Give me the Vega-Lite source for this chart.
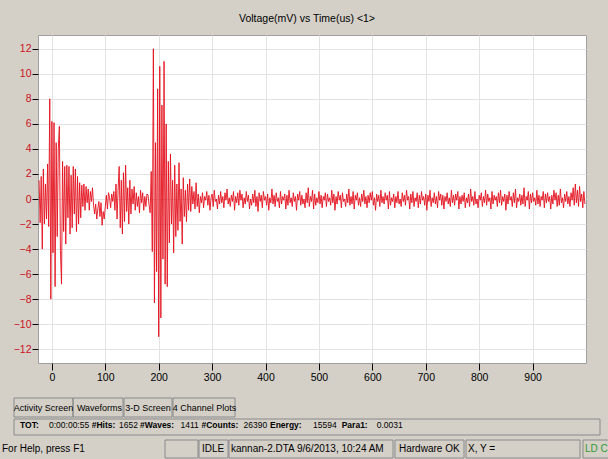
{
  "$schema": "https://vega.github.io/schema/vega-lite/v6.json",
  "width": 548,
  "height": 328,
  "autosize": {"type": "none"},
  "padding": {"left": 38, "top": 35, "right": 22, "bottom": 96},
  "background": "#d4d0c8",
  "title": {"text": "Voltage(mV) vs Time(us) <1>", "anchor": "middle", "offset": 11, "dx": -5, "fontSize": 10.5, "fontWeight": "normal", "font": "Liberation Sans", "color": "#000000"},
  "config": {
    "view": {"fill": "white", "stroke": "#a0a0a0"},
    "font": "Liberation Sans",
    "text": {"font": "Liberation Sans"}
  },
  "resolve": {"scale": {"x": "independent", "y": "independent"}},
  "layer": [
    {
      "data": {"values": [
        {"t":-24,"v":1.5},{"t":-22,"v":-1.9},{"t":-20,"v":1.8},{"t":-18,"v":-4.0},{"t":-16,"v":2.4},{"t":-14,"v":-2.0},{"t":-12,"v":1.2},{"t":-10,"v":-1.6},{"t":-8,"v":2.8},{"t":-6,"v":-2.2},
        {"t":-4,"v":8.0},{"t":-2,"v":-8.0},{"t":0,"v":6.2},{"t":2,"v":-4.3},{"t":4,"v":6.1},{"t":6,"v":-7.0},{"t":8,"v":4.5},{"t":10,"v":-3.0},{"t":12,"v":4.0},{"t":14,"v":5.8},
        {"t":16,"v":-4.1},{"t":18,"v":-6.8},{"t":20,"v":3.0},{"t":22,"v":-2.6},{"t":24,"v":2.6},{"t":26,"v":-3.6},{"t":28,"v":2.7},{"t":30,"v":-1.5},{"t":32,"v":2.6},{"t":34,"v":-2.8},
        {"t":36,"v":1.9},{"t":38,"v":-2.3},{"t":40,"v":2.6},{"t":42,"v":-1.2},{"t":44,"v":2.4},{"t":46,"v":-2.6},{"t":48,"v":1.8},{"t":50,"v":-2.0},{"t":52,"v":1.3},{"t":54,"v":-1.5},
        {"t":56,"v":1.1},{"t":58,"v":-0.6},{"t":60,"v":1.2},{"t":62,"v":-0.9},{"t":64,"v":1.0},{"t":66,"v":-0.3},{"t":68,"v":0.8},{"t":70,"v":-0.9},{"t":72,"v":0.6},{"t":74,"v":-0.2},
        {"t":76,"v":0.9},{"t":78,"v":-0.5},{"t":80,"v":-1.2},{"t":82,"v":-0.4},{"t":84,"v":-1.6},{"t":86,"v":-0.8},{"t":88,"v":-0.2},{"t":90,"v":-1.4},{"t":92,"v":-0.3},{"t":94,"v":-2.1},
        {"t":96,"v":-1.0},{"t":98,"v":-1.6},{"t":100,"v":-0.6},{"t":102,"v":0.3},{"t":104,"v":-0.8},{"t":106,"v":0.5},{"t":108,"v":0.1},{"t":110,"v":-0.7},{"t":112,"v":0.4},{"t":114,"v":-0.2},
        {"t":116,"v":0.6},{"t":118,"v":-0.9},{"t":120,"v":1.2},{"t":122,"v":-1.6},{"t":124,"v":0.8},{"t":126,"v":2.6},{"t":128,"v":-2.3},{"t":130,"v":1.5},{"t":132,"v":-2.8},{"t":134,"v":2.1},
        {"t":136,"v":-1.8},{"t":138,"v":2.7},{"t":140,"v":-1.0},{"t":142,"v":0.9},{"t":144,"v":-2.0},{"t":146,"v":1.5},{"t":148,"v":-1.2},{"t":150,"v":0.8},{"t":152,"v":-0.4},{"t":154,"v":1.0},
        {"t":156,"v":-0.9},{"t":158,"v":0.5},{"t":160,"v":-0.6},{"t":162,"v":0.2},{"t":164,"v":-1.1},{"t":166,"v":0.7},{"t":168,"v":-0.3},{"t":170,"v":0.5},{"t":172,"v":-0.9},{"t":174,"v":0.2},
        {"t":176,"v":-0.6},{"t":178,"v":0.4},{"t":180,"v":0.3},{"t":182,"v":-0.5},{"t":184,"v":-1.1},{"t":186,"v":2.2},{"t":188,"v":-4.2},{"t":190,"v":12.0},{"t":192,"v":-8.3},{"t":194,"v":4.5},
        {"t":196,"v":-5.8},{"t":198,"v":8.8},{"t":200,"v":-11.0},{"t":202,"v":10.6},{"t":204,"v":-9.5},{"t":206,"v":7.5},{"t":208,"v":-4.8},{"t":210,"v":11.0},{"t":212,"v":-6.8},{"t":214,"v":6.0},
        {"t":216,"v":-7.0},{"t":218,"v":3.0},{"t":220,"v":-3.5},{"t":222,"v":3.6},{"t":224,"v":-2.0},{"t":226,"v":1.5},{"t":228,"v":-4.3},{"t":230,"v":2.7},{"t":232,"v":-3.0},{"t":234,"v":1.2},
        {"t":236,"v":-2.5},{"t":238,"v":2.9},{"t":240,"v":-1.8},{"t":242,"v":0.8},{"t":244,"v":-3.6},{"t":246,"v":1.7},{"t":248,"v":-1.4},{"t":250,"v":0.7},{"t":252,"v":-1.8},{"t":254,"v":1.2},
        {"t":256,"v":-0.9},{"t":258,"v":1.6},{"t":260,"v":-1.0},{"t":262,"v":1.0},{"t":264,"v":-0.4},{"t":266,"v":0.6},{"t":268,"v":-0.8},{"t":270,"v":1.3},{"t":272,"v":-0.6},{"t":274,"v":0.4},
        {"t":276,"v":-1.1},{"t":278,"v":0.2},
        {"t":280,"v":-0.3},{"t":282,"v":0.5},{"t":284,"v":-0.7},{"t":286,"v":0.2},{"t":288,"v":-0.1},{"t":290,"v":0.6},{"t":292,"v":-0.5},{"t":294,"v":0.3},{"t":296,"v":-0.9},{"t":298,"v":0.1},
        {"t":300,"v":0.4},{"t":302,"v":-0.6},{"t":304,"v":0.7},{"t":306,"v":-0.2},{"t":308,"v":0.0},{"t":310,"v":-0.8},{"t":312,"v":0.3},{"t":314,"v":-0.4},{"t":316,"v":0.6},{"t":318,"v":-0.3},
        {"t":320,"v":0.2},{"t":322,"v":-0.7},{"t":324,"v":0.5},{"t":326,"v":-0.1},{"t":328,"v":0.8},{"t":330,"v":-0.4},{"t":332,"v":0.1},{"t":334,"v":-0.6},{"t":336,"v":0.3},{"t":338,"v":-0.2},
        {"t":340,"v":0.6},{"t":342,"v":-0.9},{"t":344,"v":0.2},{"t":346,"v":-0.3},{"t":348,"v":0.5},{"t":350,"v":-0.5},{"t":352,"v":0.7},{"t":354,"v":-0.1},{"t":356,"v":0.4},{"t":358,"v":-0.7},
        {"t":360,"v":0.1},{"t":362,"v":-0.4},{"t":364,"v":0.6},{"t":366,"v":-0.2},{"t":368,"v":0.3},{"t":370,"v":-0.8},{"t":372,"v":0.0},{"t":374,"v":-0.5},{"t":376,"v":0.4},{"t":378,"v":-0.3},
        {"t":380,"v":0.7},{"t":382,"v":-0.6},{"t":384,"v":0.2},{"t":386,"v":-1.0},{"t":388,"v":0.5},{"t":390,"v":-0.2},{"t":392,"v":0.3},{"t":394,"v":-0.7},{"t":396,"v":0.6},{"t":398,"v":-0.1},
        {"t":400,"v":0.2},{"t":402,"v":-0.5},{"t":404,"v":0.4},{"t":406,"v":-0.9},{"t":408,"v":0.1},{"t":410,"v":-0.3},{"t":412,"v":0.8},{"t":414,"v":-0.4},{"t":416,"v":0.3},{"t":418,"v":-0.6},
        {"t":420,"v":0.5},{"t":422,"v":-0.2},{"t":424,"v":0.1},{"t":426,"v":-0.7},{"t":428,"v":0.6},{"t":430,"v":-0.4},{"t":432,"v":0.2},{"t":434,"v":-0.1},{"t":436,"v":0.4},{"t":438,"v":-0.8},
        {"t":440,"v":0.3},{"t":442,"v":-0.5},{"t":444,"v":0.7},{"t":446,"v":-0.3},{"t":448,"v":0.1},{"t":450,"v":-0.6},{"t":452,"v":0.5},{"t":454,"v":-0.2},{"t":456,"v":0.2},{"t":458,"v":-0.9},
        {"t":460,"v":0.4},{"t":462,"v":-0.1},{"t":464,"v":0.6},{"t":466,"v":-0.5},{"t":468,"v":0.3},{"t":470,"v":-0.4},{"t":472,"v":0.0},{"t":474,"v":-0.7},{"t":476,"v":0.5},{"t":478,"v":-0.3},
        {"t":480,"v":0.9},{"t":482,"v":-0.6},{"t":484,"v":0.2},{"t":486,"v":-0.2},{"t":488,"v":0.7},{"t":490,"v":-0.8},{"t":492,"v":0.4},{"t":494,"v":-0.5},{"t":496,"v":0.1},{"t":498,"v":-0.3},
        {"t":500,"v":0.6},{"t":502,"v":-0.4},{"t":504,"v":0.3},{"t":506,"v":-0.7},{"t":508,"v":0.2},{"t":510,"v":-0.1},{"t":512,"v":0.5},{"t":514,"v":-0.6},{"t":516,"v":0.4},{"t":518,"v":-0.2},
        {"t":520,"v":0.1},{"t":522,"v":-0.5},{"t":524,"v":0.7},{"t":526,"v":-0.3},{"t":528,"v":0.4},{"t":530,"v":-0.9},{"t":532,"v":0.2},{"t":534,"v":-0.4},{"t":536,"v":0.6},{"t":538,"v":-0.1},
        {"t":540,"v":0.3},{"t":542,"v":-0.7},{"t":544,"v":0.5},{"t":546,"v":-0.2},{"t":548,"v":0.0},{"t":550,"v":-0.6},{"t":552,"v":0.4},{"t":554,"v":-0.3},{"t":556,"v":0.8},{"t":558,"v":-0.5},
        {"t":560,"v":0.2},{"t":562,"v":-0.4},{"t":564,"v":0.6},{"t":566,"v":-0.8},{"t":568,"v":0.3},{"t":570,"v":-0.1},{"t":572,"v":0.5},{"t":574,"v":-0.5},{"t":576,"v":0.1},{"t":578,"v":-0.6},
        {"t":580,"v":0.4},{"t":582,"v":-0.2},{"t":584,"v":0.7},{"t":586,"v":-0.4},{"t":588,"v":0.2},{"t":590,"v":-0.7},{"t":592,"v":0.3},{"t":594,"v":-0.3},{"t":596,"v":0.5},{"t":598,"v":-0.1},
        {"t":600,"v":0.6},{"t":602,"v":-0.5},{"t":604,"v":0.1},{"t":606,"v":-0.9},{"t":608,"v":0.4},{"t":610,"v":-0.2},{"t":612,"v":0.3},{"t":614,"v":-0.6},{"t":616,"v":0.7},{"t":618,"v":-0.3},
        {"t":620,"v":0.2},{"t":622,"v":-0.4},{"t":624,"v":0.5},{"t":626,"v":-0.1},{"t":628,"v":0.3},{"t":630,"v":-0.8},{"t":632,"v":0.6},{"t":634,"v":-0.5},{"t":636,"v":0.1},{"t":638,"v":-0.2},
        {"t":640,"v":0.4},{"t":642,"v":-0.7},{"t":644,"v":0.2},{"t":646,"v":-0.3},{"t":648,"v":0.6},{"t":650,"v":-0.4},{"t":652,"v":0.0},{"t":654,"v":-0.6},{"t":656,"v":0.5},{"t":658,"v":-0.2},
        {"t":660,"v":0.3},{"t":662,"v":-0.5},{"t":664,"v":0.7},{"t":666,"v":-0.1},{"t":668,"v":0.2},{"t":670,"v":-0.8},{"t":672,"v":0.4},{"t":674,"v":-0.3},{"t":676,"v":0.6},{"t":678,"v":-0.6},
        {"t":680,"v":0.1},{"t":682,"v":-0.2},{"t":684,"v":0.5},{"t":686,"v":-0.7},{"t":688,"v":0.3},{"t":690,"v":-0.4},{"t":692,"v":0.6},{"t":694,"v":-0.1},{"t":696,"v":0.2},{"t":698,"v":-0.5},
        {"t":700,"v":0.4},{"t":702,"v":-0.9},{"t":704,"v":0.3},{"t":706,"v":-0.2},{"t":708,"v":0.7},{"t":710,"v":-0.6},{"t":712,"v":0.1},{"t":714,"v":-0.3},{"t":716,"v":0.5},{"t":718,"v":-0.4},
        {"t":720,"v":0.2},{"t":722,"v":-0.7},{"t":724,"v":0.6},{"t":726,"v":-0.1},{"t":728,"v":0.4},{"t":730,"v":-0.5},{"t":732,"v":0.3},{"t":734,"v":-0.8},{"t":736,"v":0.2},{"t":738,"v":-0.2},
        {"t":740,"v":0.5},{"t":742,"v":-0.4},{"t":744,"v":0.1},{"t":746,"v":-0.6},{"t":748,"v":0.7},{"t":750,"v":-0.3},{"t":752,"v":0.3},{"t":754,"v":-0.5},{"t":756,"v":0.4},{"t":758,"v":-0.1},
        {"t":760,"v":0.6},{"t":762,"v":-0.8},{"t":764,"v":0.2},{"t":766,"v":-0.4},{"t":768,"v":0.3},{"t":770,"v":-0.2},{"t":772,"v":0.5},{"t":774,"v":-0.7},{"t":776,"v":0.1},{"t":778,"v":-0.3},
        {"t":780,"v":0.4},{"t":782,"v":-0.6},{"t":784,"v":0.8},{"t":786,"v":-0.2},{"t":788,"v":0.2},{"t":790,"v":-0.5},{"t":792,"v":0.6},{"t":794,"v":-0.4},{"t":796,"v":0.0},{"t":798,"v":-0.7},
        {"t":800,"v":0.3},{"t":802,"v":-0.1},{"t":804,"v":0.5},{"t":806,"v":-0.6},{"t":808,"v":0.2},{"t":810,"v":-0.3},{"t":812,"v":0.7},{"t":814,"v":-0.5},{"t":816,"v":0.4},{"t":818,"v":-0.2},
        {"t":820,"v":0.1},{"t":822,"v":-0.8},{"t":824,"v":0.6},{"t":826,"v":-0.4},{"t":828,"v":0.3},{"t":830,"v":-0.1},{"t":832,"v":0.2},{"t":834,"v":-0.6},{"t":836,"v":0.5},{"t":838,"v":-0.3},
        {"t":840,"v":0.7},{"t":842,"v":-0.5},{"t":844,"v":0.2},{"t":846,"v":-0.2},{"t":848,"v":0.4},{"t":850,"v":-0.9},{"t":852,"v":0.3},{"t":854,"v":-0.4},{"t":856,"v":0.6},{"t":858,"v":-0.1},
        {"t":860,"v":0.2},{"t":862,"v":-0.6},{"t":864,"v":0.5},{"t":866,"v":-0.3},{"t":868,"v":0.8},{"t":870,"v":-0.7},{"t":872,"v":0.1},{"t":874,"v":-0.2},{"t":876,"v":0.4},{"t":878,"v":-0.5},
        {"t":880,"v":0.3},{"t":882,"v":-0.4},{"t":884,"v":0.9},{"t":886,"v":-0.6},{"t":888,"v":0.2},{"t":890,"v":-0.1},{"t":892,"v":0.6},{"t":894,"v":-0.8},{"t":896,"v":0.4},{"t":898,"v":-0.3},
        {"t":900,"v":0.5},{"t":902,"v":-0.2},{"t":904,"v":0.1},{"t":906,"v":-0.5},{"t":908,"v":0.7},{"t":910,"v":-0.4},{"t":912,"v":0.3},{"t":914,"v":-0.6},{"t":916,"v":0.2},{"t":918,"v":-0.1},
        {"t":920,"v":0.6},{"t":922,"v":-0.7},{"t":924,"v":0.4},{"t":926,"v":-0.3},{"t":928,"v":0.5},{"t":930,"v":-0.2},{"t":932,"v":0.2},{"t":934,"v":-0.8},{"t":936,"v":0.3},{"t":938,"v":-0.4},
        {"t":940,"v":0.7},{"t":942,"v":-0.1},{"t":944,"v":0.5},{"t":946,"v":-0.6},{"t":948,"v":0.3},{"t":950,"v":-0.5},{"t":952,"v":0.8},{"t":954,"v":-0.3},{"t":956,"v":0.1},{"t":958,"v":-0.7},
        {"t":960,"v":0.4},{"t":962,"v":-0.2},{"t":964,"v":0.6},{"t":966,"v":-0.4},{"t":968,"v":0.2},{"t":970,"v":-0.6},{"t":972,"v":0.5},{"t":974,"v":-0.1},{"t":976,"v":0.9},{"t":978,"v":-0.5},
        {"t":980,"v":1.2},{"t":982,"v":-0.3},{"t":984,"v":0.7},{"t":986,"v":-0.6},{"t":988,"v":1.0},{"t":990,"v":-0.2},{"t":992,"v":0.4},{"t":994,"v":-0.7},{"t":996,"v":0.6},{"t":998,"v":-0.4}
      ]},
      "mark": {"type": "line", "color": "#e3101c", "strokeWidth": 0.9, "clip": true},
      "encoding": {
        "x": {"field": "t", "type": "quantitative", "scale": {"domain": [-26, 1000], "nice": false, "zero": false},
          "axis": {"title": null, "values": [0,100,200,300,400,500,600,700,800,900], "grid": true, "gridColor": "#e3e3e3", "domain": false, "tickColor": "#000000", "tickSize": 7, "labelColor": "#000000", "labelFontSize": 10.5, "labelPadding": 2}},
        "y": {"field": "v", "type": "quantitative", "scale": {"domain": [-13.1, 13.1], "nice": false, "zero": false},
          "axis": {"title": null, "values": [-12,-10,-8,-6,-4,-2,0,2,4,6,8,10,12], "grid": true, "gridColor": "#e3e3e3", "domain": false, "tickColor": "#000000", "tickSize": 6, "labelColor": "#cc1020", "labelFontSize": 10.5, "labelPadding": 1}}
      }
    },
    {
      "data": {"values": [
        {"a": 0, "b": 1, "c": 0, "d": 1},
        {"a": 1, "b": 2, "c": 0, "d": 1},
        {"a": 3, "b": 4, "c": 0, "d": 1},
        {"a": 5, "b": 6, "c": 0, "d": 1},
        {"a": 0, "b": 7, "c": 2, "d": 3},
        {"a": 8, "b": 9, "c": 4, "d": 5},
        {"a": 10, "b": 11, "c": 4, "d": 5},
        {"a": 12, "b": 13, "c": 4, "d": 5},
        {"a": 14, "b": 15, "c": 4, "d": 5},
        {"a": 16, "b": 17, "c": 4, "d": 5},
        {"a": 18, "b": 19, "c": 4, "d": 5}
      ]},
      "mark": {"type": "rect", "fill": "transparent", "stroke": "#8a8a8a", "strokeWidth": 1},
      "encoding": {
        "x": {"field": "a", "type": "quantitative", "scale": {"domain": [0,1,2,3,4,5,6,7,8,9,10,11,12,13,14,15,16,17,18,19], "range": [-24,35,85,86,134,135,197,562,127,160,161,190,191,355,357,426,428,542,545,574], "nice": false, "zero": false}, "axis": null},
        "x2": {"field": "b"},
        "y": {"field": "c", "type": "quantitative", "scale": {"domain": [0,1,2,3,4,5], "range": [363,382,384,400,405,423], "nice": false, "zero": false}, "axis": null},
        "y2": {"field": "d"}
      }
    },
    {
      "data": {"values": [
        {"k": 0, "r": 0, "s": "Activity Screen"},
        {"k": 1, "r": 0, "s": "Waveforms"},
        {"k": 2, "r": 0, "s": "3-D Screen"},
        {"k": 3, "r": 0, "s": "4 Channel Plots"}
      ]},
      "mark": {"type": "text", "align": "center", "baseline": "middle", "fontSize": 9, "color": "#000000"},
      "encoding": {
        "x": {"field": "k", "type": "quantitative", "scale": {"domain": [0, 1, 2, 3], "range": [5.5, 61.5, 110, 166.5], "nice": false}, "axis": null},
        "y": {"field": "r", "type": "quantitative", "scale": {"domain": [0, 1, 2], "range": [373, 390, 414], "nice": false}, "axis": null},
        "text": {"field": "s"}
      }
    },
    {
      "data": {"values": [
        {"k": 0, "r": 1, "s": "TOT:"},
        {"k": 1, "r": 1, "s": "#Hits:"},
        {"k": 2, "r": 1, "s": "#Waves:"},
        {"k": 3, "r": 1, "s": "#Counts:"},
        {"k": 4, "r": 1, "s": "Energy:"},
        {"k": 5, "r": 1, "s": "Para1:"}
      ]},
      "mark": {"type": "text", "align": "left", "baseline": "middle", "fontSize": 8.5, "fontWeight": "bold", "color": "#000000"},
      "encoding": {
        "x": {"field": "k", "type": "quantitative", "scale": {"domain": [0, 1, 2, 3, 4, 5], "range": [-18, 53.7, 102, 163.5, 232, 303.7], "nice": false}, "axis": null},
        "y": {"field": "r", "type": "quantitative", "scale": {"domain": [0, 1, 2], "range": [373, 390, 414], "nice": false}, "axis": null},
        "text": {"field": "s"}
      }
    },
    {
      "data": {"values": [
        {"k": 0, "r": 1, "s": "0:00:00:55"},
        {"k": 1, "r": 1, "s": "1652"},
        {"k": 2, "r": 1, "s": "1411"},
        {"k": 3, "r": 1, "s": "26390"},
        {"k": 4, "r": 1, "s": "15594"},
        {"k": 5, "r": 1, "s": "0.0031"}
      ]},
      "mark": {"type": "text", "align": "left", "baseline": "middle", "fontSize": 8.5, "color": "#000000"},
      "encoding": {
        "x": {"field": "k", "type": "quantitative", "scale": {"domain": [0, 1, 2, 3, 4, 5], "range": [11, 81, 142.5, 205.5, 275, 338.7], "nice": false}, "axis": null},
        "y": {"field": "r", "type": "quantitative", "scale": {"domain": [0, 1, 2], "range": [373, 390, 414], "nice": false}, "axis": null},
        "text": {"field": "s"}
      }
    },
    {
      "data": {"values": [
        {"k": 0, "r": 2, "s": "For Help, press F1"},
        {"k": 1, "r": 2, "s": "IDLE"},
        {"k": 2, "r": 2, "s": "kannan-2.DTA  9/6/2013, 10:24 AM"},
        {"k": 3, "r": 2, "s": "Hardware OK"},
        {"k": 4, "r": 2, "s": "X, Y ="}
      ]},
      "mark": {"type": "text", "align": "left", "baseline": "middle", "fontSize": 10, "color": "#000000"},
      "encoding": {
        "x": {"field": "k", "type": "quantitative", "scale": {"domain": [0, 1, 2, 3, 4], "range": [-36, 164, 193, 361, 430], "nice": false}, "axis": null},
        "y": {"field": "r", "type": "quantitative", "scale": {"domain": [0, 1, 2], "range": [373, 390, 414], "nice": false}, "axis": null},
        "text": {"field": "s"}
      }
    },
    {
      "data": {"values": [
        {"k": 0, "r": 2, "s": "LD C"},
        {"k": 1, "r": 2, "s": ""}
      ]},
      "mark": {"type": "text", "align": "left", "baseline": "middle", "fontSize": 10, "color": "#2e9a2e"},
      "encoding": {
        "x": {"field": "k", "type": "quantitative", "scale": {"domain": [0, 1], "range": [547, 557], "nice": false}, "axis": null},
        "y": {"field": "r", "type": "quantitative", "scale": {"domain": [0, 1, 2], "range": [373, 390, 414], "nice": false}, "axis": null},
        "text": {"field": "s"}
      }
    }
  ]
}
